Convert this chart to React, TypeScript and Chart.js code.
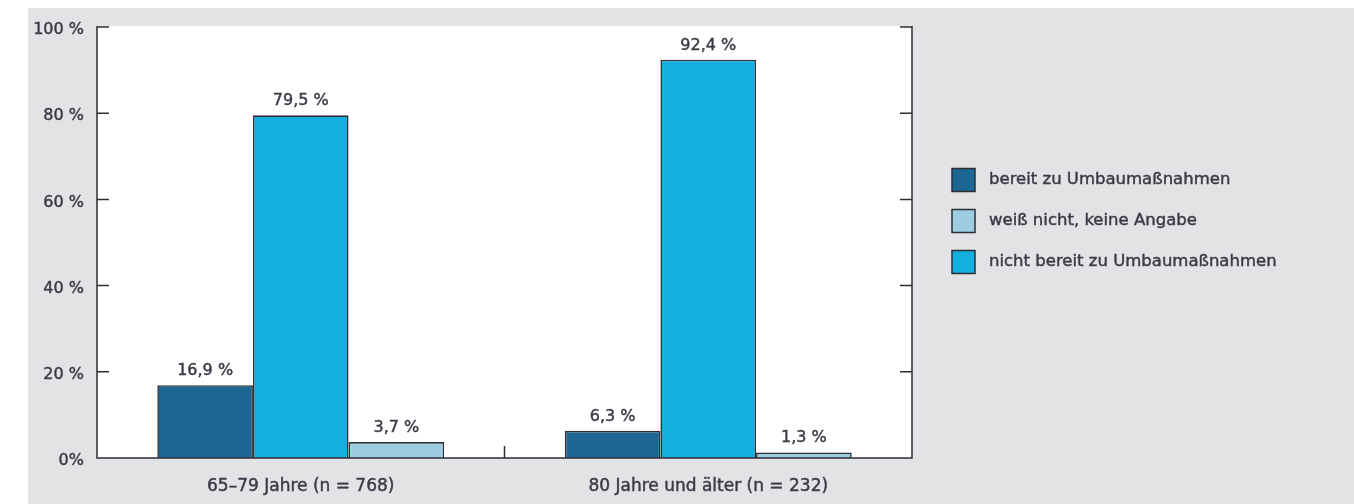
import React, { useEffect, useRef } from "react";
import { Chart, registerables } from "chart.js";

Chart.register(...registerables);

const categories = ["65–79 Jahre (n = 768)", "80 Jahre und älter (n = 232)"];
const seriesNames = ["bereit zu Umbaumaßnahmen", "nicht bereit zu Umbaumaßnahmen", "weiß nicht, keine Angabe"];
const bereit = [16.9, 6.3];
const nichtBereit = [79.5, 92.4];
const weissNicht = [3.7, 1.3];
const seriesColors = ["#1c6694", "#13afe1", "#9ccde0"];
const legendOrder = [0, 2, 1];
const yTicks = [0, 20, 40, 60, 80, 100];

const FONT = "'DejaVu Sans', 'Liberation Sans', sans-serif";
const TEXT = "#3b3b47";
const LINE = "#2e2e34";
const STROKE = 0.45;

const fmt = (v: number) => v.toFixed(1).replace(".", ",") + " %";

const chartBg = {
  id: "chartBg",
  beforeDraw(chart: any) {
    const { ctx, chartArea: a } = chart;
    ctx.save();
    ctx.fillStyle = "#ffffff";
    ctx.fillRect(a.left, a.top - 1, a.right - a.left, a.bottom - a.top + 1);
    ctx.restore();
  },
};

const boldText = (ctx: any, s: string, x: number, y: number) => {
  ctx.fillText(s, x, y);
  ctx.lineWidth = STROKE;
  ctx.strokeStyle = TEXT;
  ctx.strokeText(s, x, y);
};

const frame = {
  id: "frame",
  afterDatasetsDraw(chart: any) {
    const { ctx, chartArea: a, scales } = chart;
    const y = scales.y;
    const x = scales.x;
    ctx.save();
    ctx.strokeStyle = LINE;
    ctx.lineWidth = 1.5;
    ctx.beginPath();
    ctx.moveTo(a.left, a.top - 1);
    ctx.lineTo(a.left, a.bottom);
    ctx.lineTo(a.right, a.bottom);
    ctx.lineTo(a.right, a.top - 1);
    yTicks.forEach((t) => {
      const py = y.getPixelForValue(t);
      ctx.moveTo(a.left, py);
      ctx.lineTo(a.left + 12, py);
      ctx.moveTo(a.right, py);
      ctx.lineTo(a.right - 12, py);
    });
    for (let i = 0; i < categories.length - 1; i++) {
      const px = (x.getPixelForValue(i) + x.getPixelForValue(i + 1)) / 2;
      ctx.moveTo(px, a.bottom);
      ctx.lineTo(px, a.bottom - 12);
    }
    ctx.stroke();

    // data labels
    ctx.fillStyle = TEXT;
    ctx.font = `16px ${FONT}`;
    ctx.textAlign = "center";
    ctx.textBaseline = "alphabetic";
    chart.data.datasets.forEach((ds: any, i: number) => {
      const meta = chart.getDatasetMeta(i);
      meta.data.forEach((bar: any, j: number) => {
        ctx.fillStyle = TEXT;
        boldText(ctx, fmt(ds.data[j]), bar.x, bar.y - 10);
      });
    });

    // legend
    const lx = 924;
    const ly0 = 172;
    const gap = 41;
    const box = 23;
    ctx.font = `16.5px ${FONT}`;
    ctx.textAlign = "left";
    ctx.textBaseline = "middle";
    legendOrder.forEach((di, k) => {
      const ds = chart.data.datasets[di];
      const cy = ly0 + k * gap;
      ctx.fillStyle = ds.backgroundColor;
      ctx.fillRect(lx, cy - box / 2, box, box);
      ctx.lineWidth = 1.5;
      ctx.strokeStyle = LINE;
      ctx.strokeRect(lx, cy - box / 2, box, box);
      ctx.fillStyle = TEXT;
      boldText(ctx, ds.label, lx + 37, cy);
    });
    ctx.restore();
  },
};

export default function App() {
  const ref = useRef<HTMLCanvasElement | null>(null);
  useEffect(() => {
    if (!ref.current) return;
    const data = [bereit, nichtBereit, weissNicht];
    const chart = new Chart(ref.current, {
      type: "bar",
      data: {
        labels: categories,
        datasets: seriesNames.map((name, i) => ({
          label: name,
          data: data[i],
          backgroundColor: seriesColors[i],
          borderColor: LINE,
          borderWidth: 1.6,
          categoryPercentage: 0.704,
          barPercentage: 1,
        })),
      },
      options: {
        responsive: false,
        animation: false,
        layout: { padding: { left: 0, right: 442, top: 19, bottom: 0 } },
        plugins: { legend: { display: false }, tooltip: { enabled: false } },
        scales: {
          x: {
            grid: { display: false, drawTicks: false },
            border: { display: false },
            ticks: {
              padding: 18,
              color: TEXT,
              textStrokeColor: TEXT,
              textStrokeWidth: STROKE,
              font: { family: FONT, size: 17 },
            },
            afterFit: (s: any) => {
              s.height = 46;
              s.paddingLeft = 0;
              s.paddingRight = 0;
            },
          },
          y: {
            min: 0,
            max: 100,
            grid: { display: false, drawTicks: false },
            border: { display: false },
            ticks: {
              stepSize: 20,
              padding: 13,
              labelOffset: 3,
              color: TEXT,
              textStrokeColor: TEXT,
              textStrokeWidth: STROKE,
              font: { family: FONT, size: 16 },
              callback: (v: any) => (v === 0 ? "0%" : v + " %"),
            },
            afterFit: (s: any) => {
              s.width = 69;
              s.paddingTop = 0;
              s.paddingBottom = 0;
            },
          },
        },
      },
      plugins: [chartBg, frame],
    });
    return () => chart.destroy();
  }, []);
  return (
    <div style={{ position: "absolute", left: 28, top: 8, width: 1326, height: 496, background: "#e2e3e5" }}>
      <canvas ref={ref} width={1326} height={496} style={{ display: "block", width: 1326, height: 496 }} />
    </div>
  );
}
